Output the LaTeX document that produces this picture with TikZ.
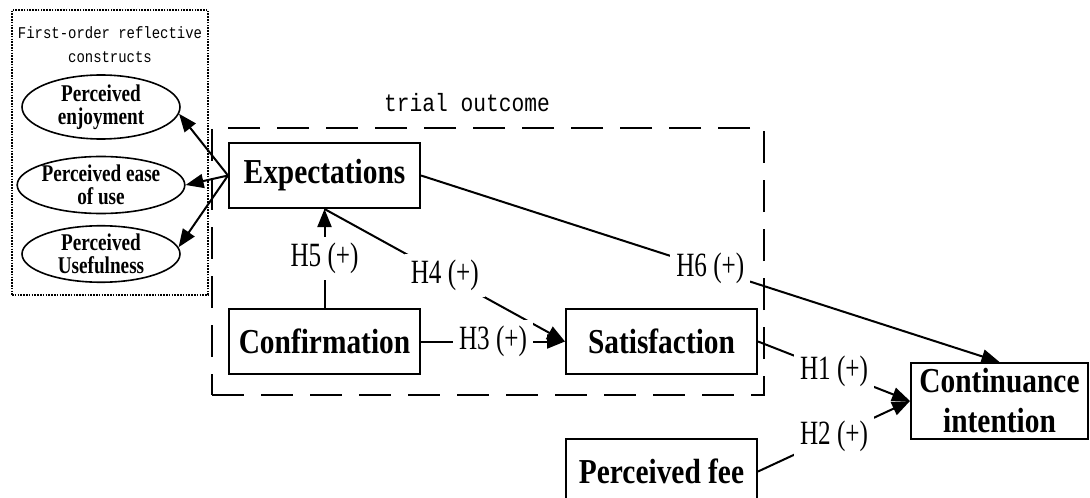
\documentclass[tikz,border=0pt]{standalone}
\usepackage{fontspec}
\setmainfont{Liberation Serif}
\newfontfamily\boxfont[FakeStretch=0.84]{Liberation Serif}
\newfontfamily\ovalfont[FakeStretch=0.8]{Liberation Serif}
\newfontfamily\hypfont[FakeStretch=0.74]{Liberation Serif}
\newfontfamily\titlefont[FakeStretch=0.85]{Liberation Mono}
\usetikzlibrary{arrows.meta,shapes.geometric}

\begin{document}
\begin{tikzpicture}[x=0.5pt, y=-0.5pt,
    construct/.style={draw, line width=1pt, minimum width=95.5pt, minimum height=32.5pt, inner sep=0pt, align=center, font=\boxfont\bfseries\fontsize{17.5}{20}\selectfont},
    firstorder/.style={ellipse, draw, line width=0.8pt, minimum width=79pt, minimum height=30pt, inner sep=0pt, align=center, font=\ovalfont\bfseries\fontsize{12}{11.5}\selectfont},
    hyp/.style={fill=white, inner sep=3pt, font=\hypfont\fontsize{17}{19}\selectfont},
    effect/.style={line width=1pt, -{Triangle[length=9pt, width=7pt]}},
  ]
  \useasboundingbox (0,0) rectangle (1090,497);

  \node[draw, line width=0.8pt, dash pattern=on 0.8pt off 0.6pt, minimum width=98pt, minimum height=142.5pt] (fobox) at (110,152.5) {};
  \node[align=center, font=\titlefont\fontsize{8.2}{12}\selectfont] (fotitle) at (110,45) {First-order reflective\\constructs};
  \node[firstorder, minimum height=32pt] (enjoy) at (101,107) {Perceived\\enjoyment};
  \node[firstorder, minimum height=28.5pt] (ease) at (101,185) {Perceived ease\\of use};
  \node[firstorder, minimum height=27pt] (useful) at (101,254) {Perceived\\Usefulness};

  \node[draw, line width=1pt, dash pattern=on 16pt off 8.5pt, minimum width=276pt, minimum height=133.5pt] (trial) at (488,261.5) {};
  \node[font=\titlefont\fontsize{12.5}{15}\selectfont] (trialtitle) at (467,103) {trial outcome};

  \node[construct] (expect) at (324.5,175.5) {Expectations};
  \node[construct] (confirm) at (324.5,341.5) {Confirmation};
  \node[construct] (satis) at (661.5,341.5) {Satisfaction};
  \node[construct] (fee) at (661.5,471.5) {Perceived fee};
  \node[construct, minimum width=88.5pt, minimum height=38pt] (cont) at (999.5,401) {Continuance\\intention};

  \draw[effect] (expect.west) -- (enjoy.-5);
  \draw[effect] (expect.west) -- (ease.east);
  \draw[effect] (expect.west) -- (useful.5);

  \draw[effect] (confirm) -- node[hyp] {H5 (+)} (expect);
  \draw[effect] (expect.south) -- node[hyp] {H4 (+)} (satis.west);
  \draw[effect] (confirm) -- node[hyp] {H3 (+)} (satis);
  \draw[effect] (expect.east) -- node[hyp] {H6 (+)} (cont.north);
  \draw[effect] (satis.east) -- node[hyp] {H1 (+)} (cont.west);
  \draw[effect] (fee.east) -- node[hyp] {H2 (+)} (cont.west);
\end{tikzpicture}
\end{document}
